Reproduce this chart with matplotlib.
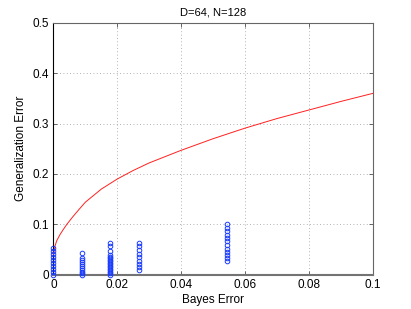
import matplotlib
matplotlib.use("Agg")
import matplotlib.pyplot as plt

plt.rcParams['font.family'] = ['Liberation Sans', 'DejaVu Sans']

# Bound curve
curve_x = [0, 0.0005, 0.001, 0.002, 0.003, 0.0042, 0.006, 0.008, 0.01, 0.015,
           0.02, 0.025, 0.03, 0.04, 0.05, 0.06, 0.07, 0.08, 0.09, 0.1]
curve_y = [0.04, 0.057, 0.067, 0.079, 0.089, 0.1, 0.1145, 0.1295, 0.144, 0.170,
           0.19, 0.207, 0.222, 0.247, 0.270, 0.291, 0.310, 0.327, 0.344, 0.36]

# Scatter columns: Bayes error and observed generalization errors
col_x = [0.0, 0.0089, 0.0178, 0.0267, 0.0545]
col_y = [
    [0.0, 0.006, 0.012, 0.018, 0.024, 0.030, 0.036, 0.042, 0.048, 0.053],
    [0.0, 0.003, 0.006, 0.010, 0.014, 0.018, 0.022, 0.026, 0.030, 0.034, 0.044],
    [0.0, 0.003, 0.006, 0.009, 0.012, 0.015, 0.018, 0.021, 0.024, 0.027, 0.030,
     0.033, 0.036, 0.040, 0.047, 0.056, 0.063],
    [0.009, 0.015, 0.021, 0.028, 0.035, 0.042, 0.049, 0.056, 0.063],
    [0.027, 0.033, 0.039, 0.046, 0.052, 0.059, 0.066, 0.072, 0.079, 0.086, 0.093, 0.100],
]

xticks = [0, 0.02, 0.04, 0.06, 0.08, 0.1]
xticklabels = ['0', '0.02', '0.04', '0.06', '0.08', '0.1']
yticks = [0, 0.1, 0.2, 0.3, 0.4, 0.5]
yticklabels = ['0', '0.1', '0.2', '0.3', '0.4', '0.5']

fig = plt.figure(figsize=(4.11, 3.09), dpi=100)
ax = fig.add_axes([0.13, 0.111, 0.777, 0.815])

ax.plot(curve_x, curve_y, color='#ff2020', lw=0.7, zorder=3)
for cx, ys in zip(col_x, col_y):
    ax.plot([cx] * len(ys), ys, linestyle='none', marker='o', markersize=3.3,
            markerfacecolor='none', markeredgecolor='#1a3cff', markeredgewidth=0.7,
            zorder=4, clip_on=False)

ax.set_xlim(0, 0.1)
ax.set_ylim(0, 0.5)
ax.set_xticks(xticks)
ax.set_xticklabels(xticklabels)
ax.set_yticks(yticks)
ax.set_yticklabels(yticklabels)
ax.tick_params(direction='in', length=3, width=0.6, labelsize=8.5, top=True, right=True,
               color='0.3', pad=3)
ax.grid(True, linestyle=(0, (1, 3)), color='0.6', lw=0.6)
for s in ['top', 'right']:
    ax.spines[s].set_color('0.4')
    ax.spines[s].set_linewidth(0.8)
ax.spines['left'].set_color('black')
ax.spines['left'].set_linewidth(0.8)
ax.spines['bottom'].set_color('0.45')
ax.spines['bottom'].set_linewidth(1.5)

ax.set_title('D=64, N=128', fontsize=8, pad=5)
ax.set_xlabel('Bayes Error', fontsize=8.5, labelpad=2)
ax.set_ylabel('Generalization Error', fontsize=8.5, labelpad=4)

fig.savefig('out.png', dpi=100)
